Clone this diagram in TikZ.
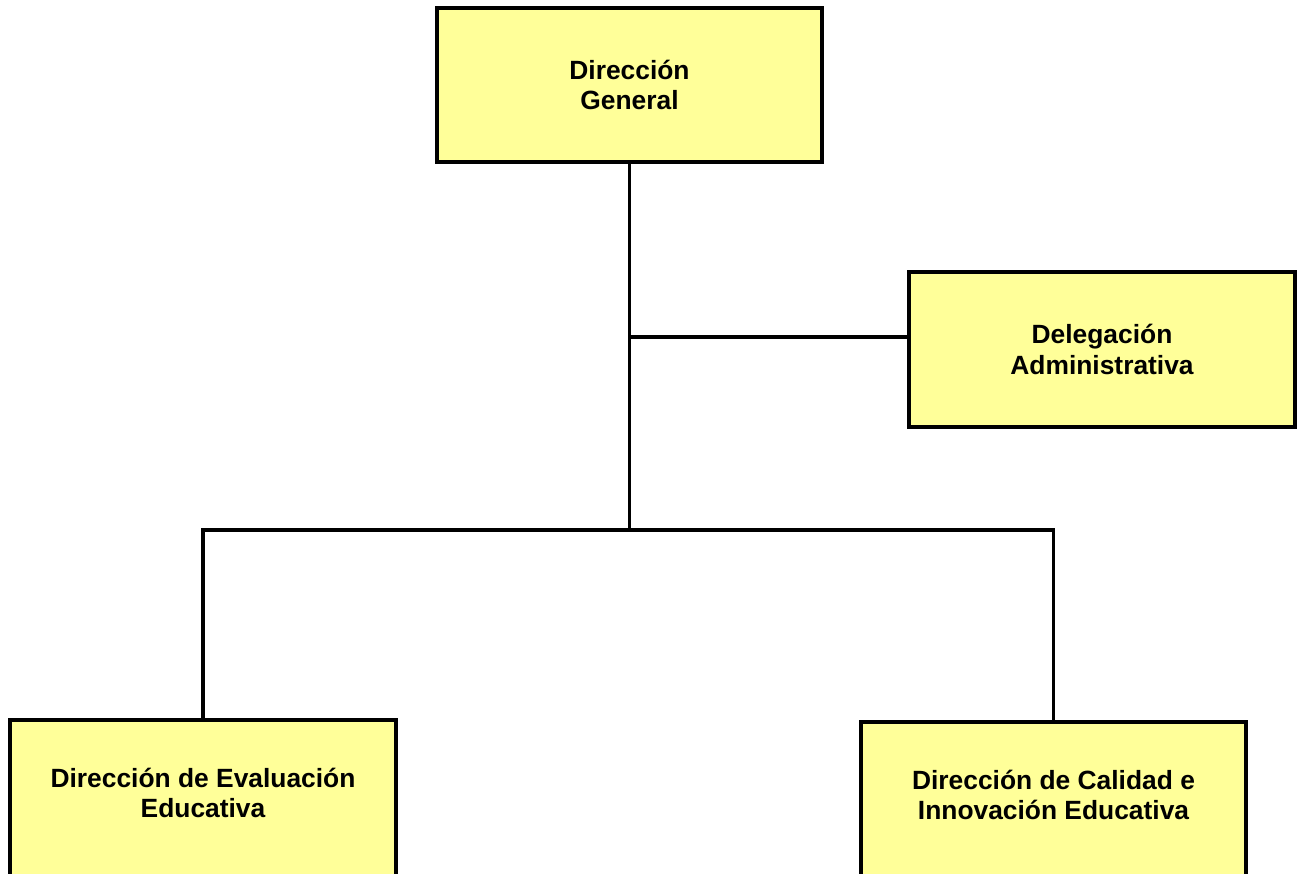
\documentclass[tikz,border=0pt]{standalone}
\usepackage{fontspec}
\setmainfont{Liberation Sans}
\definecolor{boxyellow}{HTML}{FFFF99}
\begin{document}
\begin{tikzpicture}[x=0.01cm,y=0.01cm,
  orgbox/.style={rectangle,draw,line width=1.1pt,fill=boxyellow,align=center,
    minimum width=3.85cm,font=\fontsize{7.5}{8.7}\selectfont\bfseries},
  orgline/.style={line width=1pt}]
\useasboundingbox (0,0) rectangle (1301,873);
\node at (629.5,788) [orgbox,minimum height=1.54cm] (gen) {Dirección\\General};
\node at (1102,523.5) [orgbox,minimum height=1.55cm] (del) {Delegación\\Administrativa};
%
\node at (203,155) [orgbox,anchor=north,minimum height=1.64cm,text depth=5.2pt] (eval) {Dirección de Evaluación\\Educativa};
\node at (1053.5,153) [orgbox,anchor=north,minimum height=1.64cm,text depth=5.2pt] (cal) {Dirección de Calidad e\\Innovación Educativa};
%
\coordinate (bus) at (629.5,343);
\coordinate (deljoin) at (629.5,536);
%
\draw[orgline] (gen.south) -- (bus);
\draw[orgline] (deljoin) -- (deljoin -| del.west);
\draw[orgline] (eval.north) |- (bus) -| (cal.north);
\end{tikzpicture}
\end{document}
